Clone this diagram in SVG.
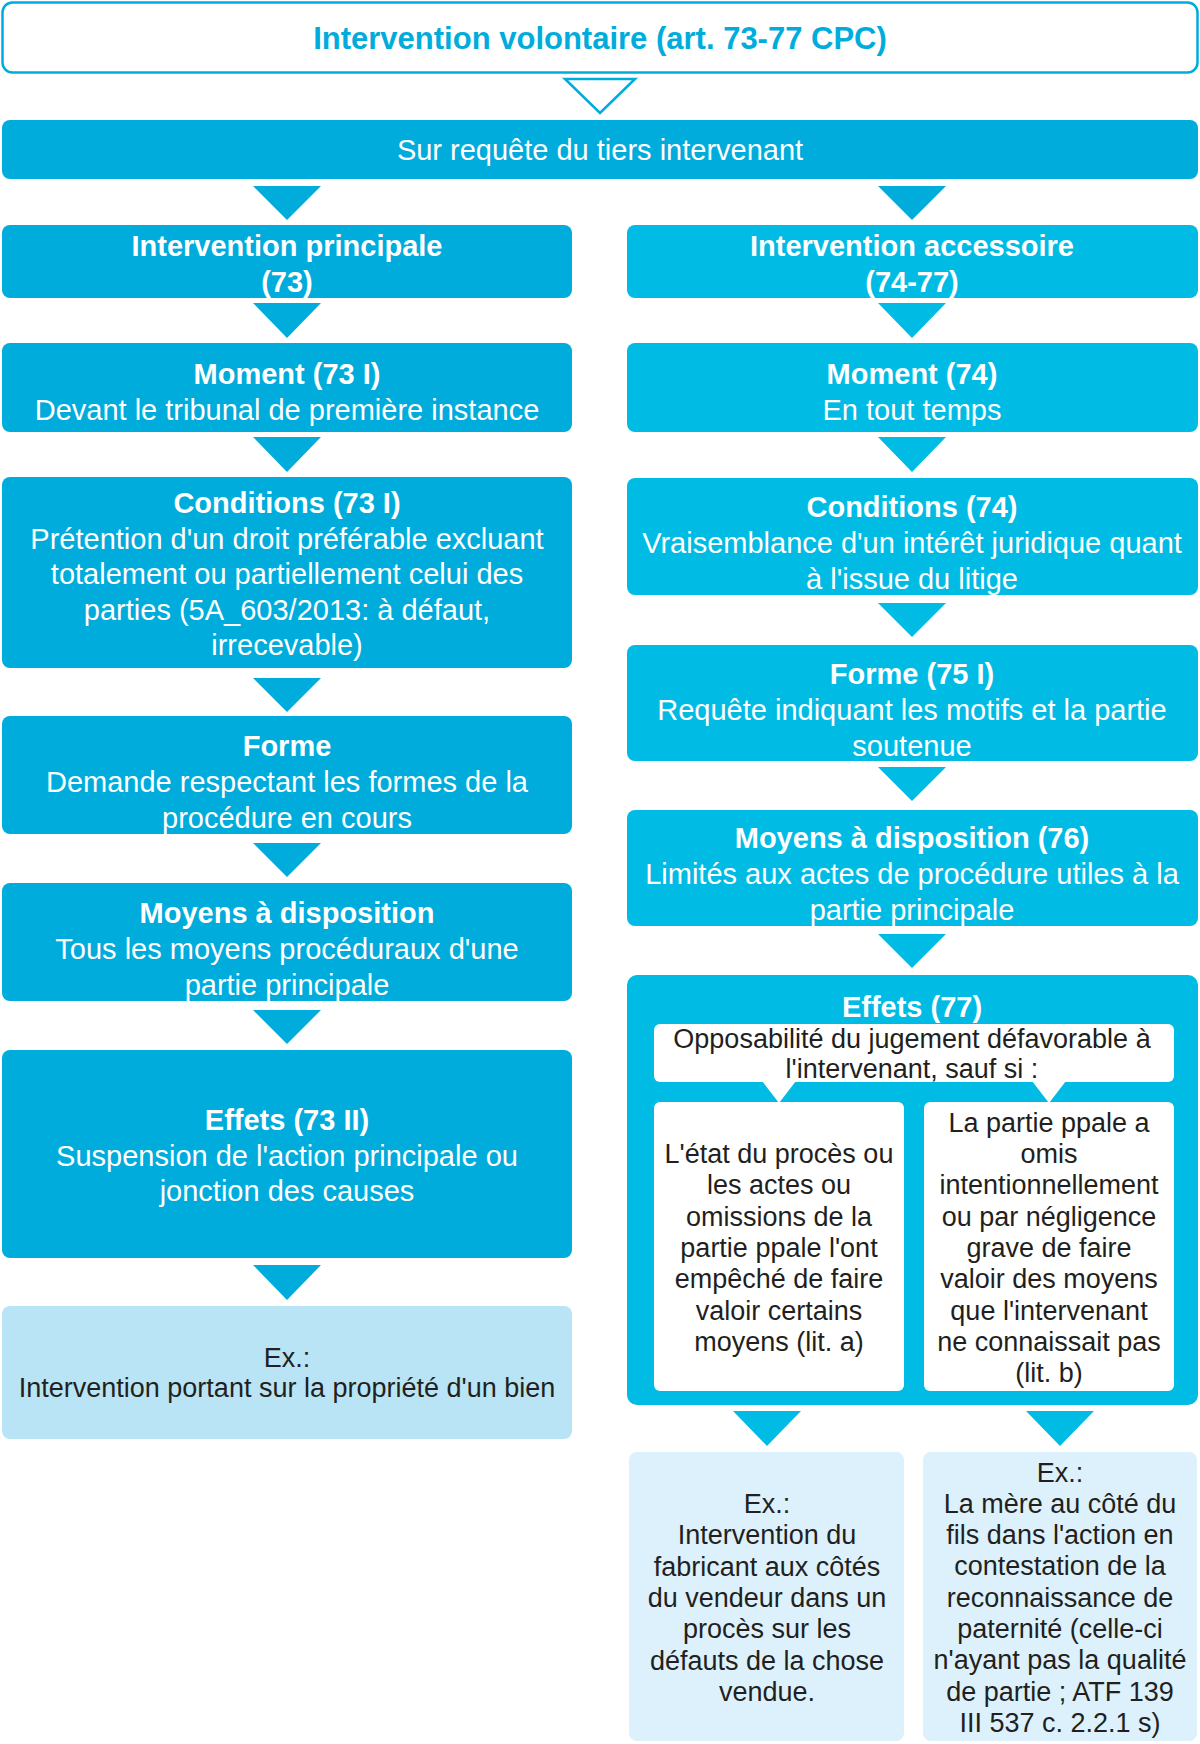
<svg xmlns="http://www.w3.org/2000/svg" width="1200" height="1744" viewBox="0 0 1200 1744">
  <style>
    .t { font-family: "Liberation Sans", Arial, Helvetica, sans-serif; text-anchor: middle; }
    .w { fill: #ffffff; font-size: 29px; }
    .b { font-weight: bold; }
    .d { fill: #231f20; font-size: 27px; }
    .dark { fill: #00acdc; }
    .light { fill: #00bce5; }
    .pale { fill: #b9e4f5; }
    .paler { fill: #dcf1fb; }
    .card { fill: #ffffff; }
  </style>

  <rect width="1200" height="1744" fill="#ffffff"/>

  <!-- Connectors: downward triangles between stages -->
  <g id="connectors">
    <polygon points="565,79 635,79 600,113" fill="#ffffff" stroke="#00acdc" stroke-width="2.5" stroke-linejoin="miter"/>
    <!-- left column -->
    <polygon class="dark" points="253,186 321,186 287,220"/>
    <polygon class="dark" points="253,303 321,303 287,338"/>
    <polygon class="dark" points="253,437 321,437 287,472"/>
    <polygon class="dark" points="253,678 321,678 287,712"/>
    <polygon class="dark" points="253,843 321,843 287,877"/>
    <polygon class="dark" points="253,1010 321,1010 287,1044"/>
    <polygon class="dark" points="253,1265 321,1265 287,1300"/>
    <!-- right column -->
    <polygon class="dark" points="878,186 946,186 912,220"/>
    <polygon class="light" points="878,303 946,303 912,338"/>
    <polygon class="light" points="878,437 946,437 912,472"/>
    <polygon class="light" points="878,603 946,603 912,637"/>
    <polygon class="light" points="878,767 946,767 912,801"/>
    <polygon class="light" points="878,934 946,934 912,968"/>
    <polygon class="light" points="733,1411 801,1411 767,1446"/>
    <polygon class="light" points="1026,1411 1094,1411 1060,1446"/>
  </g>

  <g id="title">
    <rect x="2.5" y="2.5" width="1195" height="70" rx="10" fill="#ffffff" stroke="#00acdc" stroke-width="2.5"/>
    <text class="t b" x="600" y="49" font-size="31" fill="#00acdc">Intervention volontaire (art. 73-77 CPC)</text>
  </g>

  <g id="requete">
    <rect class="dark" x="2" y="120" width="1196" height="59" rx="8"/>
    <text class="t w" x="600" y="160">Sur requête du tiers intervenant</text>
  </g>

  <!-- Left column: intervention principale -->
  <g id="principale">
    <rect class="dark" x="2" y="225" width="570" height="73" rx="8"/>
    <text class="t w b" x="287" y="256">Intervention principale</text>
    <text class="t w b" x="287" y="292">(73)</text>
  </g>

  <g id="moment-principale">
    <rect class="dark" x="2" y="343" width="570" height="89" rx="8"/>
    <text class="t w b" x="287" y="384">Moment (73 I)</text>
    <text class="t w" x="287" y="420">Devant le tribunal de première instance</text>
  </g>

  <g id="conditions-principale">
    <rect class="dark" x="2" y="477" width="570" height="191" rx="8"/>
    <text class="t w b" x="287" y="513">Conditions (73 I)</text>
    <text class="t w" x="287" y="548.5">Prétention d'un droit préférable excluant</text>
    <text class="t w" x="287" y="584">totalement ou partiellement celui des</text>
    <text class="t w" x="287" y="619.5">parties (5A_603/2013: à défaut,</text>
    <text class="t w" x="287" y="655">irrecevable)</text>
  </g>

  <g id="forme-principale">
    <rect class="dark" x="2" y="716" width="570" height="118" rx="8"/>
    <text class="t w b" x="287" y="756">Forme</text>
    <text class="t w" x="287" y="792">Demande respectant les formes de la</text>
    <text class="t w" x="287" y="828">procédure en cours</text>
  </g>

  <g id="moyens-principale">
    <rect class="dark" x="2" y="883" width="570" height="118" rx="8"/>
    <text class="t w b" x="287" y="923">Moyens à disposition</text>
    <text class="t w" x="287" y="959">Tous les moyens procéduraux d'une</text>
    <text class="t w" x="287" y="995">partie principale</text>
  </g>

  <g id="effets-principale">
    <rect class="dark" x="2" y="1050" width="570" height="208" rx="8"/>
    <text class="t w b" x="287" y="1130">Effets (73 II)</text>
    <text class="t w" x="287" y="1166">Suspension de l'action principale ou</text>
    <text class="t w" x="287" y="1201">jonction des causes</text>
  </g>

  <g id="exemple-principale">
    <rect class="pale" x="2" y="1306" width="570" height="133" rx="8"/>
    <text class="t d" x="287" y="1367">Ex.:</text>
    <text class="t d" x="287" y="1397">Intervention portant sur la propriété d'un bien</text>
  </g>

  <!-- Right column: intervention accessoire -->
  <g id="accessoire">
    <rect class="light" x="627" y="225" width="571" height="73" rx="8"/>
    <text class="t w b" x="912" y="256">Intervention accessoire</text>
    <text class="t w b" x="912" y="292">(74-77)</text>
  </g>

  <g id="moment-accessoire">
    <rect class="light" x="627" y="343" width="571" height="89" rx="8"/>
    <text class="t w b" x="912" y="384">Moment (74)</text>
    <text class="t w" x="912" y="420">En tout temps</text>
  </g>

  <g id="conditions-accessoire">
    <rect class="light" x="627" y="478" width="571" height="117" rx="8"/>
    <text class="t w b" x="912" y="517">Conditions (74)</text>
    <text class="t w" x="912" y="553">Vraisemblance d'un intérêt juridique quant</text>
    <text class="t w" x="912" y="589">à l'issue du litige</text>
  </g>

  <g id="forme-accessoire">
    <rect class="light" x="627" y="645" width="571" height="116" rx="8"/>
    <text class="t w b" x="912" y="684">Forme (75 I)</text>
    <text class="t w" x="912" y="720">Requête indiquant les motifs et la partie</text>
    <text class="t w" x="912" y="756">soutenue</text>
  </g>

  <g id="moyens-accessoire">
    <rect class="light" x="627" y="810" width="571" height="116" rx="8"/>
    <text class="t w b" x="912" y="848">Moyens à disposition (76)</text>
    <text class="t w" x="912" y="884">Limités aux actes de procédure utiles à la</text>
    <text class="t w" x="912" y="920">partie principale</text>
  </g>

  <g id="effets-accessoire">
    <rect class="light" x="627" y="975" width="571" height="430" rx="10"/>
    <text class="t w b" x="912" y="1017">Effets (77)</text>
    <!-- opposability statement with two pointers to the exceptions -->
    <rect class="card" x="654" y="1024" width="520" height="58" rx="6"/>
    <polygon class="card" points="762,1081 796,1081 779,1103"/>
    <polygon class="card" points="1032,1081 1066,1081 1049,1103"/>
    <text class="t d" x="912" y="1047.5">Opposabilité du jugement défavorable à</text>
    <text class="t d" x="912" y="1077.5">l'intervenant, sauf si :</text>
  </g>

  <g id="exception-a">
    <rect class="card" x="654" y="1102" width="250" height="289" rx="6"/>
    <text class="t d" x="779" y="1163">L'état du procès ou</text>
    <text class="t d" x="779" y="1194.3">les actes ou</text>
    <text class="t d" x="779" y="1225.6">omissions de la</text>
    <text class="t d" x="779" y="1256.9">partie ppale l'ont</text>
    <text class="t d" x="779" y="1288.2">empêché de faire</text>
    <text class="t d" x="779" y="1319.5">valoir certains</text>
    <text class="t d" x="779" y="1350.8">moyens (lit. a)</text>
  </g>

  <g id="exception-b">
    <rect class="card" x="924" y="1102" width="250" height="289" rx="6"/>
    <text class="t d" x="1049" y="1131.7">La partie ppale a</text>
    <text class="t d" x="1049" y="1163">omis</text>
    <text class="t d" x="1049" y="1194.3">intentionnellement</text>
    <text class="t d" x="1049" y="1225.6">ou par négligence</text>
    <text class="t d" x="1049" y="1256.9">grave de faire</text>
    <text class="t d" x="1049" y="1288.2">valoir des moyens</text>
    <text class="t d" x="1049" y="1319.5">que l'intervenant</text>
    <text class="t d" x="1049" y="1350.8">ne connaissait pas</text>
    <text class="t d" x="1049" y="1382.1">(lit. b)</text>
  </g>

  <g id="exemple-a">
    <rect class="paler" x="629" y="1452" width="275" height="289" rx="8"/>
    <text class="t d" x="767" y="1513">Ex.:</text>
    <text class="t d" x="767" y="1544.3">Intervention du</text>
    <text class="t d" x="767" y="1575.6">fabricant aux côtés</text>
    <text class="t d" x="767" y="1606.9">du vendeur dans un</text>
    <text class="t d" x="767" y="1638.2">procès sur les</text>
    <text class="t d" x="767" y="1669.5">défauts de la chose</text>
    <text class="t d" x="767" y="1700.8">vendue.</text>
  </g>

  <g id="exemple-b">
    <rect class="paler" x="923" y="1452" width="274" height="289" rx="8"/>
    <text class="t d" x="1060" y="1481.5">Ex.:</text>
    <text class="t d" x="1060" y="1512.8">La mère au côté du</text>
    <text class="t d" x="1060" y="1544.1">fils dans l'action en</text>
    <text class="t d" x="1060" y="1575.4">contestation de la</text>
    <text class="t d" x="1060" y="1606.7">reconnaissance de</text>
    <text class="t d" x="1060" y="1638">paternité (celle-ci</text>
    <text class="t d" x="1060" y="1669.3">n'ayant pas la qualité</text>
    <text class="t d" x="1060" y="1700.6">de partie ; ATF 139</text>
    <text class="t d" x="1060" y="1731.9">III 537 c. 2.2.1 s)</text>
  </g>
</svg>
